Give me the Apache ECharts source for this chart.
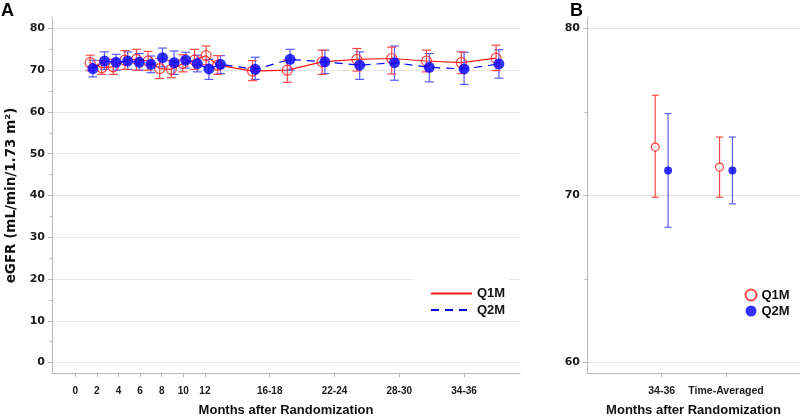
<!DOCTYPE html>
<html>
<head>
<meta charset="utf-8">
<script src="https://cdn.jsdelivr.net/npm/echarts@6/dist/echarts.min.js"></script>
<style>html,body{margin:0;padding:0;background:#fff}#c{width:800px;height:417px}</style>
</head>
<body>
<div id="c"></div>
<script>
// ---- Panel A data (months after randomization) ----
const months = [1,2,3,4,5,6,7,8,9,10,11,12,15,18,21,24,27,30,33,36];
const q1mMean = [71.8,70.6,70.8,72.4,72.6,72.2,70.4,70.2,71.6,72.4,73.5,71.2,69.8,70.0,72.0,72.6,72.8,72.2,71.8,72.9];
const q1mLow  = [69.9,69.0,69.0,70.2,70.0,70.0,68.0,68.2,69.6,70.2,71.3,69.0,67.5,67.1,69.0,69.8,69.1,69.6,69.2,69.9];
const q1mHigh = [73.6,72.3,72.6,74.7,75.0,74.5,72.8,72.3,73.7,75.0,75.8,73.5,72.3,72.4,74.8,75.2,75.5,74.8,74.4,76.0];
const q2mMean = [70.4,72.2,71.9,72.2,71.9,71.4,73.0,71.8,72.4,71.6,70.3,71.4,70.2,72.6,72.0,71.2,71.8,70.7,70.3,71.5];
const q2mLow  = [68.4,70.2,70.0,70.2,70.0,69.4,70.8,69.0,70.5,69.6,67.8,69.2,67.8,70.0,69.2,67.8,67.6,67.2,66.6,68.1];
const q2mHigh = [72.4,74.4,73.8,74.4,74.0,73.4,75.3,74.6,74.3,73.6,72.6,73.5,73.1,75.0,74.8,74.4,75.8,74.0,74.3,74.9];
const xTickValues = [0,2,4,6,8,10,12,18,24,30,36];
const xTickLabels = ['0','2','4','6','8','10','12','16-18','22-24','28-30','34-36'];
const yTicksA = [0,10,20,30,40,50,60,70,80];
const yMinorA = [5,15,25,35,45,55,65,75];

// ---- Panel B data ----
const bCategories = ['34-36','Time-Averaged'];
const bQ1mMean = [72.9,71.7];
const bQ1mLow  = [69.9,69.9];
const bQ1mHigh = [76.0,73.5];
const bQ2mMean = [71.5,71.5];
const bQ2mLow  = [68.1,69.5];
const bQ2mHigh = [74.9,73.5];
const yTicksB = [60,70,80];
const yMinorB = [65,75];

const RED = '#ff1a1a', RED_ERR = '#ff4a4a', BLUE = '#0000ff', BLUE_ERR = '#5b5bff';
const FONT = 'Arial, "Liberation Sans", sans-serif';
const NUMFONT = 'Verdana, "DejaVu Sans", sans-serif';
const OFF = 0.12, OFFB = 0.1;

function errRender(capHalf, color) {
  return function (params, api) {
    const x = api.value(0), lo = api.value(1), hi = api.value(2);
    const a = api.coord([x, lo]), b = api.coord([x, hi]);
    const st = {stroke: color, lineWidth: 1.2};
    return {type: 'group', children: [
      {type: 'line', shape: {x1: a[0], y1: a[1], x2: b[0], y2: b[1]}, style: st},
      {type: 'line', shape: {x1: a[0]-capHalf, y1: a[1], x2: a[0]+capHalf, y2: a[1]}, style: st},
      {type: 'line', shape: {x1: b[0]-capHalf, y1: b[1], x2: b[0]+capHalf, y2: b[1]}, style: st}
    ]};
  };
}

const axisLineStyle = {color: '#b8b8b8', width: 1};
const splitStyle = {color: '#e6e6e6', width: 1};

const option = {
  animation: false,
  backgroundColor: '#fff',
  graphic: [
    {type: 'text', left: 1, top: 2, style: {text: 'A', font: 'bold 18px ' + FONT, fill: '#000'}},
    {type: 'text', left: 570, top: 2, style: {text: 'B', font: 'bold 18px ' + FONT, fill: '#000'}}
  ],
  grid: [
    {left: 52, right: 280, top: 18, bottom: 44, containLabel: false, outerBoundsMode: 'none'},
    {left: 587, right: 0, top: 18, bottom: 44, containLabel: false, outerBoundsMode: 'none'}
  ],
  xAxis: [
    {type: 'value', gridIndex: 0, position: 'bottom', min: -2.405, max: 37.94,
     axisLine: {show: true, onZero: false, lineStyle: axisLineStyle}, axisTick: {show: false}, axisLabel: {show: false}, splitLine: {show: false}},
    {type: 'value', gridIndex: 0, position: 'bottom', min: -2.157, max: 41.18,
     axisLine: {show: false, onZero: false}, splitLine: {show: false},
     axisTick: {show: true, length: 4, customValues: xTickValues, lineStyle: axisLineStyle},
     axisLabel: {show: true, customValues: xTickValues, margin: 13, color: '#1a1a1a', fontFamily: FONT, fontWeight: 'bold', fontSize: 10,
       formatter: v => xTickLabels[xTickValues.indexOf(v)]},
     name: 'Months after Randomization', nameLocation: 'middle', nameGap: 31,
     nameTextStyle: {fontFamily: FONT, fontWeight: 'bold', fontSize: 13, color: '#111'}},
    {type: 'value', gridIndex: 1, position: 'bottom', min: -0.16, max: 3.15,
     axisLine: {show: true, onZero: false, lineStyle: axisLineStyle}, splitLine: {show: false},
     axisTick: {show: true, length: 4, customValues: [1,2], lineStyle: axisLineStyle},
     axisLabel: {show: true, customValues: [1,2], margin: 13, color: '#1a1a1a', fontFamily: FONT, fontWeight: 'bold', fontSize: 10.5,
       formatter: v => bCategories[v-1]},
     name: 'Months after Randomization', nameLocation: 'middle', nameGap: 31,
     nameTextStyle: {fontFamily: FONT, fontWeight: 'bold', fontSize: 13, color: '#111'}}
  ],
  yAxis: [
    {type: 'value', gridIndex: 0, position: 'left', min: -2.5, max: 82.5,
     axisLine: {show: true, onZero: false, lineStyle: axisLineStyle},
     axisTick: {show: true, length: 4, customValues: yTicksA, lineStyle: axisLineStyle},
     axisLabel: {show: true, customValues: yTicksA, margin: 7, color: '#1a1a1a', fontFamily: NUMFONT, fontWeight: 'bold', fontSize: 11},
     splitLine: {show: true, lineStyle: splitStyle},
     name: 'eGFR (mL/min/1.73 m²)', nameLocation: 'middle', nameGap: 30,
     nameTextStyle: {fontFamily: NUMFONT, fontWeight: 'bold', fontSize: 13.5, color: '#111'}},
    {type: 'value', gridIndex: 0, position: 'left', min: -2.5, max: 82.5,
     axisLine: {show: false, onZero: false}, axisLabel: {show: false}, splitLine: {show: false},
     axisTick: {show: true, length: 2.5, customValues: yMinorA, lineStyle: axisLineStyle}},
    {type: 'value', gridIndex: 1, position: 'left', min: 59.375, max: 80.625,
     axisLine: {show: true, onZero: false, lineStyle: axisLineStyle},
     axisTick: {show: true, length: 4, customValues: yTicksB, lineStyle: axisLineStyle},
     axisLabel: {show: true, customValues: yTicksB, margin: 7, color: '#1a1a1a', fontFamily: NUMFONT, fontWeight: 'bold', fontSize: 11},
     splitLine: {show: true, lineStyle: splitStyle}},
    {type: 'value', gridIndex: 1, position: 'left', min: 59.375, max: 80.625,
     axisLine: {show: false, onZero: false}, axisLabel: {show: false}, splitLine: {show: false},
     axisTick: {show: true, length: 2.5, customValues: yMinorB, lineStyle: axisLineStyle}}
  ],
  legend: [
    {data: ['Q1M','Q2M'], orient: 'vertical', left: 413, top: 275, itemWidth: 41, itemHeight: 10, itemGap: 3.5, itemTextGap: 6,
     padding: [12,4,3,17], backgroundColor: '#fff', itemStyle: {opacity: 0},
     textStyle: {fontFamily: FONT, fontWeight: 'bold', fontSize: 13, color: '#111'}},
    {data: ['Q1M-B','Q2M-B'], orient: 'vertical', left: 744.5, top: 288.5, itemWidth: 11, itemHeight: 11, itemGap: 3, itemTextGap: 6,
     padding: 0, formatter: n => n.replace('-B',''),
     textStyle: {fontFamily: FONT, fontWeight: 'bold', fontSize: 13, color: '#111'}}
  ],
  series: [
    {name: 'Q1M', type: 'line', xAxisIndex: 0, yAxisIndex: 0, symbol: 'none', z: 2,
     lineStyle: {color: RED, width: 1.2, type: 'solid'}, itemStyle: {color: RED},
     data: months.map((m,i) => [m-OFF, q1mMean[i]])},
    {name: 'Q2M', type: 'line', xAxisIndex: 0, yAxisIndex: 0, symbol: 'none', z: 2,
     lineStyle: {color: BLUE, width: 1.2, type: [8,6]}, itemStyle: {color: BLUE},
     data: months.map((m,i) => [m+OFF, q2mMean[i]])},
    {name: 'Q2M err', type: 'custom', xAxisIndex: 0, yAxisIndex: 0, z: 3, clip: false,
     renderItem: errRender(4.5, BLUE_ERR), encode: {x: 0, y: [1,2]},
     data: months.map((m,i) => [m+OFF, q2mLow[i], q2mHigh[i]])},
    {name: 'Q1M err', type: 'custom', xAxisIndex: 0, yAxisIndex: 0, z: 3, clip: false,
     renderItem: errRender(4.5, RED_ERR), encode: {x: 0, y: [1,2]},
     data: months.map((m,i) => [m-OFF, q1mLow[i], q1mHigh[i]])},
    {name: 'Q1M pts', type: 'scatter', xAxisIndex: 0, yAxisIndex: 0, z: 4, symbol: 'circle', symbolSize: 10,
     itemStyle: {color: 'rgba(255,255,255,0)', borderColor: RED, borderWidth: 1.2},
     data: months.map((m,i) => [m-OFF, q1mMean[i]])},
    {name: 'Q2M pts', type: 'scatter', xAxisIndex: 0, yAxisIndex: 0, z: 5, symbol: 'circle', symbolSize: 11,
     itemStyle: {color: BLUE},
     data: months.map((m,i) => [m+OFF, q2mMean[i]])},
    {name: 'Q1M-B err', type: 'custom', xAxisIndex: 2, yAxisIndex: 2, z: 3, clip: false,
     renderItem: errRender(3.5, RED_ERR), encode: {x: 0, y: [1,2]},
     data: bCategories.map((c,i) => [i+1-OFFB, bQ1mLow[i], bQ1mHigh[i]])},
    {name: 'Q2M-B err', type: 'custom', xAxisIndex: 2, yAxisIndex: 2, z: 3, clip: false,
     renderItem: errRender(3.5, BLUE_ERR), encode: {x: 0, y: [1,2]},
     data: bCategories.map((c,i) => [i+1+OFFB, bQ2mLow[i], bQ2mHigh[i]])},
    {name: 'Q1M-B', type: 'scatter', xAxisIndex: 2, yAxisIndex: 2, z: 4, symbol: 'circle', symbolSize: 8,
     itemStyle: {color: '#fff', borderColor: RED, borderWidth: 1.2},
     data: bCategories.map((c,i) => [i+1-OFFB, bQ1mMean[i]])},
    {name: 'Q2M-B', type: 'scatter', xAxisIndex: 2, yAxisIndex: 2, z: 5, symbol: 'circle', symbolSize: 8,
     itemStyle: {color: BLUE},
     data: bCategories.map((c,i) => [i+1+OFFB, bQ2mMean[i]])}
  ]
};
const chart = echarts.init(document.getElementById('c'), null, {renderer: 'canvas'});
chart.setOption(option);
</script>
</body>
</html>
